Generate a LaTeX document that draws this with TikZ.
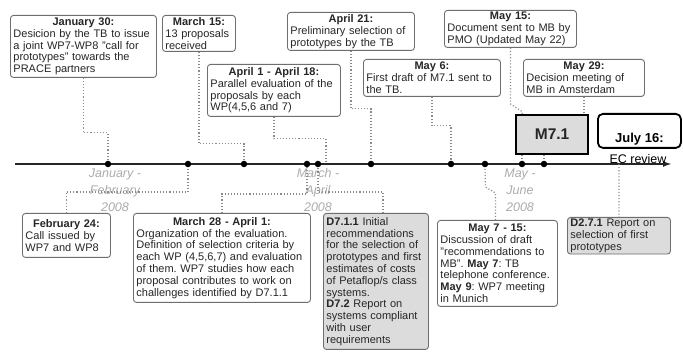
\documentclass[tikz,border=0pt]{standalone}
\usepackage{fontspec}
\setmainfont{Liberation Sans}
\usetikzlibrary{arrows.meta}
\definecolor{bordc}{HTML}{6E6E6E}
\definecolor{txtc}{HTML}{262626}
\definecolor{lblc}{HTML}{ABABAB}
\definecolor{fillc}{HTML}{DCDCDC}
\definecolor{dotc}{HTML}{8A8A8A}
\newcommand{\boxfont}{\fontsize{11}{11.8}\selectfont}
\newcommand{\hd}[1]{\makebox[\linewidth]{\bfseries #1}}
\frenchspacing
\begin{document}
\begin{tikzpicture}[x=1pt,y=-1pt,
  tbox/.style={draw=bordc, rounded corners=3pt, line width=0.9pt, fill=white,
    inner xsep=3pt, inner ysep=1.5pt, anchor=north west, align=left,
    font=\boxfont, text=txtc},
  gbox/.style={tbox, fill=fillc},
  conn/.style={draw=dotc, line width=1.2pt, dash pattern=on 1.1pt off 2pt},
  tdot/.style={circle, fill=black, inner sep=0pt, minimum size=6.5pt},
  period/.style={align=center, text=lblc, font=\fontsize{12.5}{17}\selectfont\itshape},
  axisline/.style={line width=1.8pt, draw=black!85, -{Latex[length=9pt,width=6pt]}}
]
\useasboundingbox (0,0) rectangle (683,352);

% axis
\coordinate (ax0) at (15,164);
\coordinate (axend) at (672,164);
\draw[axisline] (ax0) -- (axend);

% period labels
\node[period] (pJF) at (115,190) {January -\\February\\2008};
\node[period] (pMA) at (318,190) {March -\\April\\2008};
\node[period] (pMJ) at (520,190) {May -\\June\\2008};

% top boxes
\node[tbox, text width=140, minimum height=62] (jan) at (10,15)
  {\hd{January 30:}\\Desicion by the TB to issue\\a joint WP7-WP8 "call for\\prototypes" towards the\\PRACE partners};
\node[tbox, text width=67, minimum height=36] (mar15) at (162,15)
  {\hd{March 15:}\\13 proposals\\received};
\node[tbox, text width=127, minimum height=52] (apr1) at (207,64)
  {\hd{April 1 - April 18:}\\Parallel evaluation of the\\proposals by each\\WP(4,5,6 and 7)};
\node[tbox, text width=121, minimum height=38] (apr21) at (287,12)
  {\hd{April 21:}\\Preliminary selection of\\prototypes by the TB};
\node[tbox, text width=131, minimum height=37] (may6) at (363,59)
  {\hd{May 6:}\\First draft of M7.1 sent to\\the TB.};
\node[tbox, text width=126, minimum height=37] (may15) at (444,10)
  {\hd{May 15:}\\Document sent to MB by\\PMO (Updated May 22)};
\node[tbox, text width=115, minimum height=37] (may29) at (523,59)
  {\hd{May 29:}\\Decision meeting of\\MB in Amsterdam};

% milestone boxes
\node[draw=black, line width=2.2pt, fill=fillc, anchor=north west,
  minimum width=72, minimum height=39, inner sep=0pt,
  font=\fontsize{15.5}{18}\selectfont\bfseries, text=txtc] (m71) at (515,114) {M7.1};
\node[draw=black, line width=1.8pt, rounded corners=5pt, fill=white, anchor=north west,
  minimum width=83, text height=26pt, text depth=2pt, inner ysep=3pt,
  font=\fontsize{13}{15}\selectfont\bfseries, text=black] (jul16) at (597,113) {July 16:};
\node[font=\fontsize{12.5}{14}\selectfont, text=black] (ec) at (638,159) {EC review};

% bottom boxes
\node[tbox, text width=82, minimum height=44] (feb24) at (22,213)
  {\hd{February 24:}\\Call issued by\\WP7 and WP8};
\node[tbox, text width=171, minimum height=89] (mar28) at (133,213)
  {\hd{March 28 - April 1:}\\Organization of the evaluation.\\Definition of selection criteria by\\each WP (4,5,6,7) and evaluation\\of them. WP7 studies how each\\proposal contributes to work on\\challenges identified by D7.1.1};
\node[gbox, text width=99, minimum height=136] (d711) at (323,213)
  {\textbf{D7.1.1} Initial\\recommendations\\for the selection of\\prototypes and first\\estimates of costs\\of Petaflop/s class\\systems.\\\textbf{D7.2} Report on\\systems compliant\\with user\\requirements};
\node[tbox, text width=114, minimum height=86] (may7) at (437,220)
  {\hd{May 7 - 15:}\\Discussion of draft\\"recommendations to\\MB". \textbf{May 7}: TB\\telephone conference.\\\textbf{May 9}: WP7 meeting\\in Munich};
\node[gbox, text width=97, minimum height=36] (d271) at (567,217)
  {\textbf{D2.7.1} Report on\\selection of first\\prototypes};

% dots on the axis
\node[tdot] (d1) at (108,164) {};
\node[tdot] (d2) at (188,164) {};
\node[tdot] (d3) at (244,164) {};
\node[tdot] (d4) at (307,164) {};
\node[tdot] (d5) at (318,164) {};
\node[tdot] (d6) at (371,164) {};
\node[tdot] (d7) at (451,164) {};
\node[tdot] (d8) at (485,164) {};
\node[tdot] (d9) at (522,164) {};
\node[tdot] (d10) at (544,164) {};
\coordinate (a1end) at (326,164);
\coordinate (ecpt) at (619,164);

% connectors (top)
\draw[conn] (jan.south) -- ++(0,55) -| (d1.north);
\draw[conn] (mar15.south) -- ++(0,92) -| (d3.north);
\draw[conn] (apr1.south) -- ++(0,22) -| (a1end);
\draw[conn] (apr21.south) -- ++(0,58) -| (d6.north);
\draw[conn] (may6.south) -- ++(0,29) -| (d7.north);
\draw[conn] (may15.south) -- ++(0,56) -- ++(12,8) -- (d9 |- m71.north);
\draw[conn] (d9 |- m71.south) -- (d9.north);
\draw[conn] (may29.south) -- (may29.south |- m71.north);
\draw[conn] (d10 |- m71.south) -- (d10.north);

% connectors (bottom)
\draw[conn] (feb24.north) -- ++(0,-21) -| (d2.south);
\draw[conn] (mar28.north) -- ++(0,-19) -| (d4.south);
\draw[conn] ([xshift=7pt]d711.north) -- ++(0,-21) -| (d5.south);
\draw[conn] ([xshift=-2pt]may7.north) -- ++(0,-27) -- ++(-10,-6) -- (d8.south);
\draw[conn] (ecpt) -- (d271.north);
\end{tikzpicture}
\end{document}
